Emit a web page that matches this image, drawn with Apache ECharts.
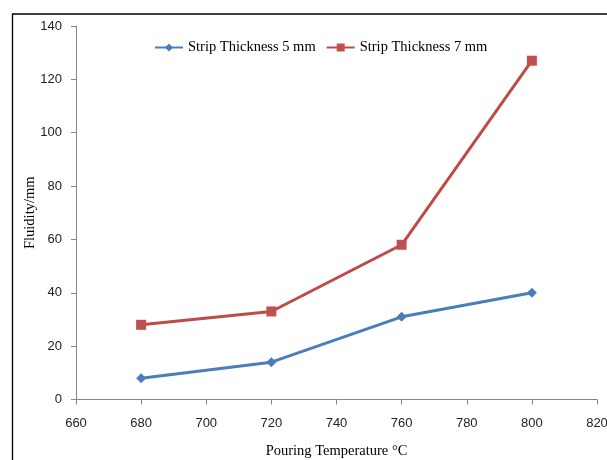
<!DOCTYPE html>
<html><head><meta charset="utf-8">
<script src="https://cdn.jsdelivr.net/npm/echarts@6/dist/echarts.min.js"></script>
<style>html,body{margin:0;padding:0;background:#fff}#c{width:607px;height:460px}</style>
</head><body><div id="c"></div>
<script>
var temperatures = [680, 720, 760, 800];
var thick5 = [8, 14, 31, 40];
var thick7 = [28, 33, 58, 127];
var seriesNames = ['Strip Thickness 5 mm', 'Strip Thickness 7 mm'];

var chart = echarts.init(document.getElementById('c'), null, {renderer: 'canvas'});
function pairs(xs, ys){ return xs.map(function(x,i){return [x, ys[i]];}); }
var tickFont = {fontFamily: 'Liberation Sans, Arial, sans-serif', fontSize: 13, color: '#222'};
var serif = 'Liberation Serif, Times New Roman, serif';
chart.setOption({
  animation: false,
  backgroundColor: '#fff',
  graphic: [{type:'rect', left: 10, top: 11.5, shape:{width: 700, height: 600}, style:{fill:'none', stroke:'#000', lineWidth:1.3}, silent:true}],
  legend: {
    top: 35, left: 149, itemGap: 10, itemWidth: 28, itemHeight: 10,
    textStyle: {fontFamily: serif, fontSize: 14.5, color: '#000'},
    data: seriesNames
  },
  grid: {left: 76, right: 10, top: 26, bottom: 60.5, containLabel: false, outerBoundsMode: 'none'},
  xAxis: {
    type: 'value', min: 660, max: 820, interval: 20,
    name: 'Pouring Temperature °C', nameLocation: 'middle', nameGap: 44, nameMoveOverlap: false,
    nameTextStyle: {fontFamily: serif, fontSize: 14.5, color: '#000'},
    axisLine: {onZero: false, lineStyle: {color: '#868686', width: 1}},
    axisTick: {show: true, length: 5, lineStyle: {color: '#868686'}},
    axisLabel: Object.assign({margin: 17, hideOverlap: false}, tickFont),
    splitLine: {show: false}
  },
  yAxis: {
    type: 'value', min: 0, max: 140, interval: 20,
    name: 'Fluidity/mm', nameLocation: 'middle', nameGap: 38, nameMoveOverlap: false,
    nameTextStyle: {fontFamily: serif, fontSize: 14.5, color: '#000'},
    axisLine: {show: true, lineStyle: {color: '#868686', width: 1}},
    axisTick: {show: true, length: 5, lineStyle: {color: '#868686'}},
    axisLabel: Object.assign({margin: 14}, tickFont),
    splitLine: {show: false}
  },
  series: [
    {name: seriesNames[0], type: 'line', data: pairs(temperatures, thick5), symbol: 'diamond', symbolSize: 10,
     lineStyle: {color: '#4a7ebb', width: 3}, itemStyle: {color: '#4a7ebb'}},
    {name: seriesNames[1], type: 'line', data: pairs(temperatures, thick7), symbol: 'rect', symbolSize: 10,
     lineStyle: {color: '#be4b48', width: 3}, itemStyle: {color: '#c0504d'}}
  ]
});
</script></body></html>
